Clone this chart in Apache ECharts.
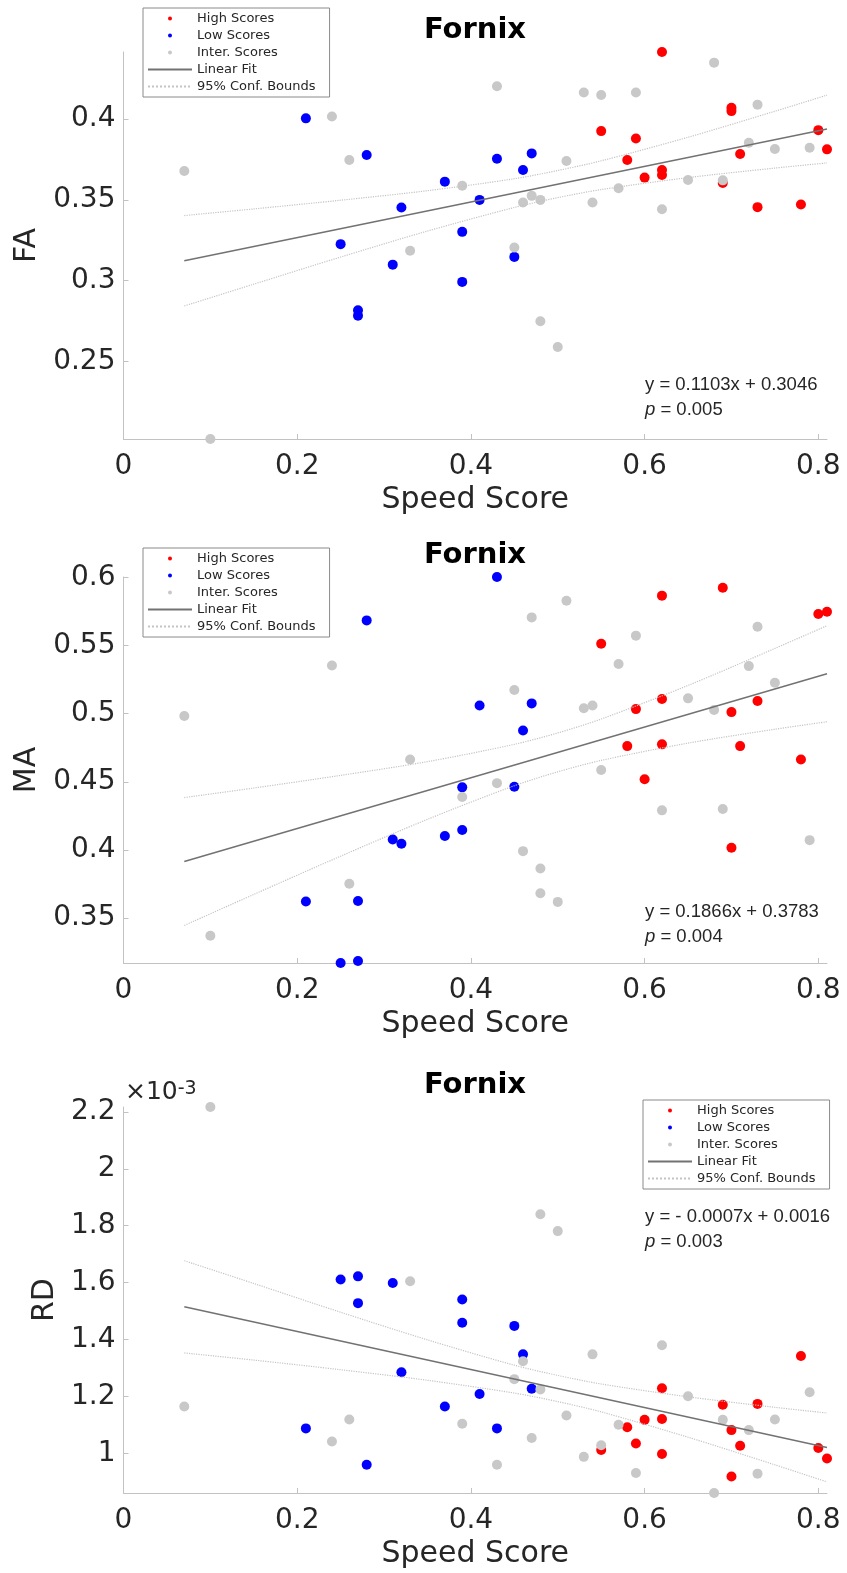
<!DOCTYPE html>
<html>
<head>
<meta charset="utf-8">
<script src="https://cdn.jsdelivr.net/npm/echarts@6.0.0/dist/echarts.min.js"></script>
<style>
  html, body { margin: 0; padding: 0; background: #fff; }
  #chart { width: 847px; height: 1573px; }
</style>
</head>
<body>
<div id="chart"></div>
<script>
// speed score on x, one [x, y] pair per subject
const faHigh = [[0.62,0.4416],[0.70,0.407],[0.70,0.405],[0.55,0.3926],[0.59,0.388],[0.58,0.3747],[0.60,0.3638],[0.62,0.3685],[0.62,0.3654],[0.71,0.3784],[0.80,0.3932],[0.81,0.3813],[0.69,0.3605],[0.73,0.3455],[0.78,0.3471]]
const faLow = [[0.21,0.4005],[0.28,0.3778],[0.43,0.3755],[0.47,0.3788],[0.46,0.3685],[0.37,0.3613],[0.41,0.35],[0.32,0.3453],[0.39,0.3302],[0.25,0.3226],[0.31,0.3099],[0.39,0.2992],[0.45,0.3147],[0.27,0.2816],[0.27,0.2783]]
const faInter = [[0.68,0.435],[0.43,0.4204],[0.53,0.4165],[0.55,0.415],[0.59,0.4165],[0.24,0.4016],[0.73,0.409],[0.26,0.3747],[0.07,0.3679],[0.51,0.3741],[0.72,0.3854],[0.75,0.3815],[0.79,0.3823],[0.65,0.3623],[0.69,0.3621],[0.57,0.3572],[0.39,0.3588],[0.47,0.3525],[0.46,0.3484],[0.48,0.35],[0.54,0.3484],[0.62,0.3442],[0.33,0.3185],[0.45,0.3205],[0.48,0.2748],[0.50,0.2589],[0.10,0.2019]]

const maHigh = [[0.69,0.5926],[0.62,0.5868],[0.80,0.5733],[0.81,0.575],[0.55,0.5515],[0.62,0.5108],[0.59,0.5034],[0.70,0.5012],[0.73,0.5093],[0.58,0.4762],[0.62,0.4775],[0.71,0.4762],[0.78,0.4664],[0.60,0.4518],[0.70,0.4015]]
const maLow = [[0.43,0.6005],[0.28,0.5686],[0.47,0.5076],[0.41,0.5061],[0.46,0.4877],[0.39,0.4459],[0.45,0.4463],[0.31,0.4076],[0.32,0.4044],[0.37,0.4102],[0.39,0.4146],[0.21,0.362],[0.27,0.3624],[0.25,0.3168],[0.27,0.3183]]
const maInter = [[0.51,0.5831],[0.47,0.5708],[0.59,0.5574],[0.24,0.5355],[0.73,0.564],[0.57,0.5365],[0.72,0.535],[0.45,0.5174],[0.53,0.504],[0.54,0.5061],[0.65,0.5113],[0.75,0.5228],[0.68,0.5027],[0.07,0.4983],[0.33,0.4664],[0.55,0.4587],[0.43,0.449],[0.39,0.4388],[0.62,0.429],[0.69,0.43],[0.79,0.4071],[0.46,0.399],[0.48,0.3863],[0.26,0.3751],[0.48,0.368],[0.50,0.3617],[0.10,0.3368]]

// RD in units of 1e-3
const rdHigh = [[0.78,1.342],[0.62,1.229],[0.69,1.171],[0.73,1.174],[0.60,1.118],[0.62,1.121],[0.58,1.092],[0.70,1.082],[0.59,1.035],[0.71,1.027],[0.55,1.012],[0.80,1.019],[0.62,0.998],[0.81,0.982],[0.70,0.919]]
const rdLow = [[0.25,1.611],[0.27,1.622],[0.31,1.599],[0.27,1.528],[0.39,1.541],[0.39,1.459],[0.45,1.448],[0.46,1.348],[0.32,1.285],[0.47,1.227],[0.41,1.209],[0.37,1.165],[0.21,1.088],[0.43,1.088],[0.28,0.96]]
const rdInter = [[0.10,2.217],[0.48,1.84],[0.50,1.781],[0.33,1.605],[0.62,1.38],[0.54,1.348],[0.46,1.324],[0.45,1.261],[0.48,1.225],[0.79,1.215],[0.65,1.201],[0.07,1.165],[0.51,1.133],[0.26,1.119],[0.75,1.119],[0.69,1.118],[0.39,1.104],[0.57,1.101],[0.72,1.082],[0.47,1.054],[0.24,1.042],[0.55,1.029],[0.53,0.988],[0.43,0.96],[0.59,0.931],[0.73,0.929],[0.68,0.861]]

// fit lines and 95% bounds
const fitX = [0.07, 0.81]
const faFit = [0.3123, 0.3939]
const maFit = [0.3914, 0.5294]
const rdFit = [1.515, 1.021]
const boundX = [0.07, 0.15, 0.25, 0.35, 0.45, 0.5, 0.55, 0.65, 0.75, 0.81]
const faUpper = [0.3403, 0.3444, 0.3498, 0.3557, 0.3631, 0.3682, 0.3742, 0.3888, 0.4049, 0.4149]
const faLower = [0.2843, 0.2978, 0.3146, 0.3307, 0.3453, 0.3514, 0.3564, 0.3638, 0.3697, 0.3729]
const maUpper = [0.4384, 0.4454, 0.4547, 0.4648, 0.4775, 0.4859, 0.4961, 0.5208, 0.548, 0.5647]
const maLower = [0.3444, 0.3672, 0.3953, 0.4224, 0.4471, 0.4573, 0.4657, 0.4784, 0.4886, 0.4941]
const rdUpper = [1.677, 1.597, 1.496, 1.399, 1.31, 1.274, 1.244, 1.199, 1.162, 1.142]
const rdLower = [1.353, 1.328, 1.294, 1.257, 1.212, 1.182, 1.146, 1.057, 0.96, 0.9]

// tick labels
const xTicks = [0, 0.2, 0.4, 0.6, 0.8]
const faTicks = [0.25, 0.3, 0.35, 0.4]
const maTicks = [0.35, 0.4, 0.45, 0.5, 0.55, 0.6]
const rdTicks = [1, 1.2, 1.4, 1.6, 1.8, 2, 2.2]

const FONT = "DejaVu Sans"
const AXIS_GRAY = "#c2c2c2"
const TEXT = "#262626"

// legend entries; the line entries hide the centre marker that ECharts adds
const legendItems = [
  { name: "High Scores" },
  { name: "Low Scores" },
  { name: "Inter. Scores" },
  { name: "Linear Fit", itemStyle: { opacity: 0 } },
  { name: "95% Conf. Bounds", itemStyle: { opacity: 0 } },
]

const panels = [
  { name: "FA", high: faHigh, low: faLow, inter: faInter, fit: faFit, upper: faUpper, lower: faLower, ticks: faTicks,
    top: 52, height: 387, nameGap: 77, legend: { left: 143, top: 8 },
    eq: "y = 0.1103x + 0.3046", p: "0.005", eqY: 385 },
  { name: "MA", high: maHigh, low: maLow, inter: maInter, fit: maFit, upper: maUpper, lower: maLower, ticks: maTicks,
    top: 577, height: 386, nameGap: 77, legend: { left: 143, top: 548 },
    eq: "y = 0.1866x + 0.3783", p: "0.004", eqY: 912 },
  { name: "RD", high: rdHigh, low: rdLow, inter: rdInter, fit: rdFit, upper: rdUpper, lower: rdLower, ticks: rdTicks,
    top: 1107, height: 386, nameGap: 55, legend: { left: 643, top: 1100 },
    eq: "y = - 0.0007x + 0.0016", p: "0.003", eqY: 1217 },
]

function zip(xs, ys) {
  return xs.map((x, i) => [x, ys[i]])
}

function draw() {
  const grid = [], xAxis = [], yAxis = [], series = [], legend = [], graphic = []

  panels.forEach((pn, i) => {
    grid.push({ left: 123.5, right: 20, top: pn.top, height: pn.height })
    xAxis.push({
      gridIndex: i,
      type: "value",
      min: 0,
      max: 0.81,
      name: "Speed Score",
      nameLocation: "middle",
      nameGap: 46,
      nameTextStyle: { fontSize: 30, color: TEXT, fontFamily: FONT },
      axisLine: { show: true, onZero: false, lineStyle: { color: AXIS_GRAY, width: 1 } },
      axisTick: { show: true, inside: true, length: 5, customValues: xTicks, lineStyle: { color: AXIS_GRAY } },
      axisLabel: { customValues: xTicks, margin: 14, fontSize: 28, color: TEXT, fontFamily: FONT },
      splitLine: { show: false },
    })
    yAxis.push({
      gridIndex: i,
      type: "value",
      min: "dataMin",
      max: "dataMax",
      name: pn.name,
      nameLocation: "middle",
      nameGap: pn.nameGap,
      nameTextStyle: { fontSize: 30, color: TEXT, fontFamily: FONT },
      axisLine: { show: true, lineStyle: { color: AXIS_GRAY, width: 1 } },
      axisTick: { show: true, inside: true, length: 5, customValues: pn.ticks, lineStyle: { color: AXIS_GRAY } },
      axisLabel: { customValues: pn.ticks, margin: 8, fontSize: 28, color: TEXT, fontFamily: FONT },
      splitLine: { show: false },
    })

    const scatter = (name, data, color) => ({
      name, type: "scatter", xAxisIndex: i, yAxisIndex: i, data,
      symbolSize: 10, itemStyle: { color, opacity: 1 },
    })
    series.push(scatter("High Scores", pn.high, "#ff0000"))
    series.push(scatter("Low Scores", pn.low, "#0000ff"))
    series.push(scatter("Inter. Scores", pn.inter, "#c8c8c8"))
    series.push({
      name: "Linear Fit", type: "line", xAxisIndex: i, yAxisIndex: i,
      data: zip(fitX, pn.fit), symbol: "none",
      lineStyle: { color: "#727272", width: 1.5 },
      itemStyle: { color: "#727272" },
    })
    ;[pn.upper, pn.lower].forEach((b) => {
      series.push({
        name: "95% Conf. Bounds", type: "line", xAxisIndex: i, yAxisIndex: i,
        data: zip(boundX, b), symbol: "none", smooth: 0.3,
        lineStyle: { color: "#c4c4c4", width: 1.2, type: "dotted" },
        itemStyle: { color: "#c4c4c4" },
      })
    })

    legend.push({
      orient: "vertical",
      left: pn.legend.left,
      top: pn.legend.top,
      padding: [3, 14, 3, 4],
      itemWidth: 44,
      itemHeight: 4,
      itemGap: 2,
      borderColor: "#8a8a8a",
      borderWidth: 1,
      backgroundColor: "#fff",
      selectedMode: false,
      textStyle: { fontSize: 13, lineHeight: 15, color: TEXT, fontFamily: FONT },
      data: legendItems,
    })

    graphic.push({
      type: "text", x: 475, y: pn.top - 22,
      style: { text: "Fornix", align: "center", verticalAlign: "middle", font: 'bold 29px "DejaVu Sans"', fill: "#000" },
    })
    graphic.push({
      type: "text", x: 645, y: pn.eqY,
      style: { text: pn.eq, verticalAlign: "middle", font: '18.5px "Liberation Sans"', fill: TEXT },
    })
    graphic.push({
      type: "text", x: 645, y: pn.eqY + 25,
      style: {
        text: "{i|p} = " + pn.p, verticalAlign: "middle", fontSize: 18.5, fontFamily: "Liberation Sans", fill: TEXT,
        rich: { i: { fontStyle: "italic", fontSize: 18.5, fontFamily: "Liberation Sans", fill: TEXT } },
      },
    })
  })

  // exponent label of the RD axis
  graphic.push({
    type: "text", x: 125, y: 1080,
    style: {
      text: "{m|×10}{s|-3}", fill: TEXT,
      rich: {
        m: { fontSize: 25, fontFamily: FONT, fill: TEXT, verticalAlign: "bottom" },
        s: { fontSize: 19, fontFamily: FONT, fill: TEXT, verticalAlign: "top" },
      },
    },
  })

  const option = {
    backgroundColor: "#fff",
    animation: false,
    grid, xAxis, yAxis, series, legend, graphic,
  }
  const myChart = echarts.init(document.getElementById("chart"))
  myChart.setOption(option)
}

draw()
</script>
</body>
</html>
